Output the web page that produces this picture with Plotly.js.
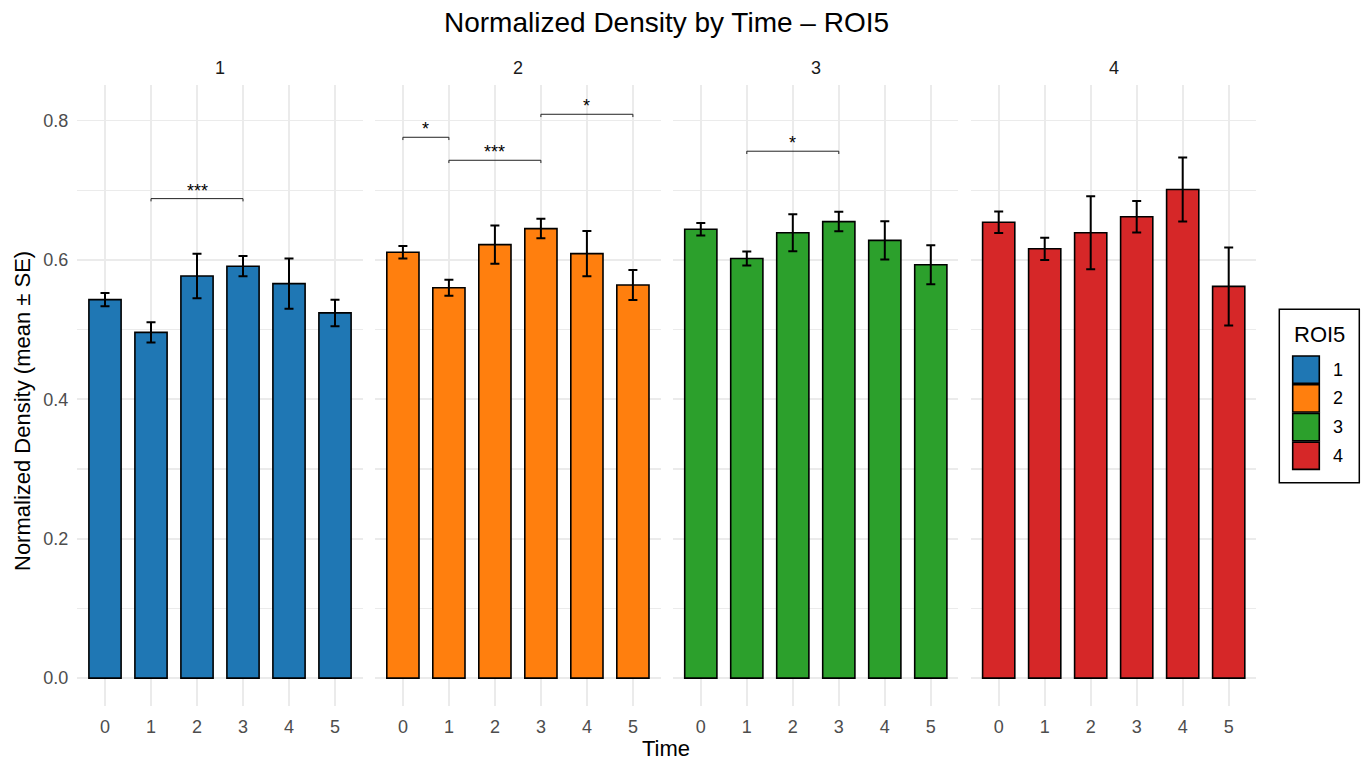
<!DOCTYPE html>
<html>
<head>
<meta charset="utf-8">
<script src="https://cdn.plot.ly/plotly-3.0.1.min.js"></script>
<style>html,body{margin:0;padding:0;background:#fff;}#chart{width:1368px;height:765px;}</style>
</head>
<body>
<div id="chart"></div>
<script>
// ---- data ----
const time = [0, 1, 2, 3, 4, 5];
const roiLevels = ['1', '2', '3', '4'];
const roi1Mean = [0.543, 0.496, 0.577, 0.591, 0.566, 0.524];
const roi1SE   = [0.0095, 0.0145, 0.032, 0.0145, 0.036, 0.019];
const roi2Mean = [0.611, 0.560, 0.622, 0.645, 0.609, 0.564];
const roi2SE   = [0.009, 0.0115, 0.0275, 0.014, 0.0325, 0.0215];
const roi3Mean = [0.644, 0.602, 0.639, 0.655, 0.628, 0.593];
const roi3SE   = [0.009, 0.010, 0.0265, 0.014, 0.0275, 0.028];
const roi4Mean = [0.654, 0.616, 0.639, 0.662, 0.701, 0.562];
const roi4SE   = [0.0155, 0.016, 0.0525, 0.0225, 0.046, 0.056];
const yTickVals = [0, 0.2, 0.4, 0.6, 0.8];
const yTickText = ['0.0', '0.2', '0.4', '0.6', '0.8'];
// significance brackets per panel: [from, to, y, label]
const sig1 = [[1, 3, 0.688, '***']];
const sig2 = [[0, 1, 0.776, '*'], [1, 3, 0.743, '***'], [3, 5, 0.809, '*']];
const sig3 = [[1, 3, 0.756, '*']];
const sig4 = [];

// ---- styles ----
const means = [roi1Mean, roi2Mean, roi3Mean, roi4Mean];
const ses = [roi1SE, roi2SE, roi3SE, roi4SE];
const sigs = [sig1, sig2, sig3, sig4];
const colors = ['#1f77b4', '#ff7f0e', '#2ca02c', '#d62728'];
const W = 1368, H = 765;
const px = v => v / W;
const py = v => 1 - v / H;
const FONT = 'Liberation Sans, Arial, Helvetica, sans-serif';
const panelLeft = [77.4, 375.3, 673.2, 971.1];
const panelWidth = 285.2;
const yDom = [py(706), py(85)];

const traces = [];
const layout = {
  width: W, height: H,
  margin: {l: 0, r: 0, t: 0, b: 0},
  paper_bgcolor: '#fff', plot_bgcolor: '#fff',
  showlegend: false,
  hovermode: false,
  font: {family: FONT, color: '#000'},
  shapes: [], annotations: []
};

roiLevels.forEach((lvl, i) => {
  const xa = i === 0 ? 'x' : 'x' + (i + 1);
  const ya = i === 0 ? 'y' : 'y' + (i + 1);
  const xk = i === 0 ? 'xaxis' : 'xaxis' + (i + 1);
  const yk = i === 0 ? 'yaxis' : 'yaxis' + (i + 1);
  traces.push({
    type: 'bar', x: time, y: means[i], xaxis: xa, yaxis: ya, width: 0.7,
    marker: {color: colors[i], line: {color: '#000', width: 1.6}},
    error_y: {type: 'data', array: ses[i], visible: true, color: '#000', thickness: 2, width: 4.5},
    name: lvl
  });
  layout[xk] = {
    domain: [px(panelLeft[i]), px(panelLeft[i] + panelWidth)],
    anchor: ya, range: [-0.6, 5.6],
    tickvals: time, ticktext: time.map(String),
    showgrid: true, gridcolor: '#ebebeb', gridwidth: 1.8,
    zeroline: false, showline: false, ticks: '', ticklabelstandoff: 8,
    tickfont: {family: FONT, size: 18, color: '#4d4d4d'}
  };
  layout[yk] = {
    domain: yDom, anchor: xa, range: [-0.04, 0.851],
    tickvals: yTickVals, ticktext: yTickText,
    showticklabels: i === 0,
    showgrid: true, gridcolor: '#ebebeb', gridwidth: 1.8,
    minor: {tickvals: [0.1, 0.3, 0.5, 0.7], showgrid: true, gridcolor: '#ebebeb', gridwidth: 1.2},
    zeroline: false, showline: false, ticks: '', ticklabelstandoff: 8,
    tickfont: {family: FONT, size: 18, color: '#4d4d4d'}
  };
  // strip label
  layout.annotations.push({
    xref: 'paper', yref: 'paper', x: px(panelLeft[i] + panelWidth / 2), y: py(68),
    text: lvl, showarrow: false, xanchor: 'center', yanchor: 'middle',
    font: {family: FONT, size: 18, color: '#1a1a1a'}
  });
  // significance brackets
  sigs[i].forEach(s => {
    const [a, b, yv, lab] = s;
    const d = 0.004;
    layout.shapes.push({
      type: 'path', xref: xa, yref: ya,
      path: `M ${a},${yv - d} L ${a},${yv} L ${b},${yv} L ${b},${yv - d}`,
      line: {color: '#222', width: 1}
    });
    layout.annotations.push({
      xref: xa, yref: ya, x: (a + b) / 2, y: yv, text: lab, showarrow: false,
      xanchor: 'center', yanchor: 'bottom', yshift: -4,
      font: {family: FONT, size: 18, color: '#000'}
    });
  });
});

// titles
layout.annotations.push({
  xref: 'paper', yref: 'paper', x: px(666), y: py(22), text: 'Normalized Density by Time – ROI5',
  showarrow: false, xanchor: 'center', yanchor: 'middle', font: {family: FONT, size: 28, color: '#000'}
});
layout.annotations.push({
  xref: 'paper', yref: 'paper', x: px(666), y: py(748), text: 'Time',
  showarrow: false, xanchor: 'center', yanchor: 'middle', font: {family: FONT, size: 22, color: '#000'}
});
layout.annotations.push({
  xref: 'paper', yref: 'paper', x: px(22), y: py(411), text: 'Normalized Density (mean ± SE)',
  showarrow: false, xanchor: 'center', yanchor: 'middle', textangle: -90,
  font: {family: FONT, size: 22, color: '#000'}
});

// legend (drawn manually)
layout.shapes.push({
  type: 'rect', xref: 'paper', yref: 'paper',
  x0: px(1279.3), x1: px(1359.3), y0: py(482.7), y1: py(309.3),
  line: {color: '#000', width: 1.5}, fillcolor: 'rgba(0,0,0,0)'
});
layout.annotations.push({
  xref: 'paper', yref: 'paper', x: px(1292), y: py(334), text: 'ROI5',
  showarrow: false, xanchor: 'left', yanchor: 'middle', font: {family: FONT, size: 22, color: '#000'}
});
roiLevels.forEach((lvl, i) => {
  const top = 356 + i * 28.7, bot = top + 27.3;
  layout.shapes.push({
    type: 'rect', xref: 'paper', yref: 'paper',
    x0: px(1292.7), x1: px(1319.3), y0: py(bot), y1: py(top),
    line: {color: '#000', width: 1.6}, fillcolor: colors[i]
  });
  layout.annotations.push({
    xref: 'paper', yref: 'paper', x: px(1331), y: py((top + bot) / 2), text: lvl,
    showarrow: false, xanchor: 'left', yanchor: 'middle', font: {family: FONT, size: 18, color: '#000'}
  });
});

Plotly.newPlot('chart', traces, layout, {staticPlot: true, displayModeBar: false});
</script>
</body>
</html>
